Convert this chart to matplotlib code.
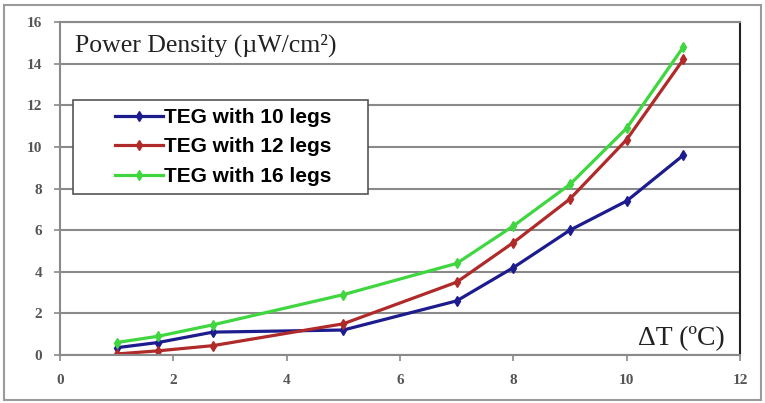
import matplotlib.pyplot as plt
from matplotlib.patches import Rectangle

# data
delta_t = [1, 1.73, 2.7, 5, 7, 8, 9, 10, 11]
teg_10 = [0.35, 0.6, 1.1, 1.2, 2.6, 4.2, 6.0, 7.4, 9.6]
teg_12 = [0.05, 0.2, 0.45, 1.5, 3.5, 5.4, 7.5, 10.35, 14.2]
teg_16 = [0.6, 0.9, 1.45, 2.9, 4.4, 6.2, 8.2, 10.9, 14.8]
series_labels = ["TEG with 10 legs", "TEG with 12 legs", "TEG with 16 legs"]
colors = ["#1c1c8f", "#b02a2a", "#3fd63f"]

W, H = 765, 403
fig = plt.figure(figsize=(W / 100, H / 100), dpi=100)
ax = fig.add_axes([60 / W, 48 / H, 680 / W, 333 / H])

# outer chart frame
fig.patches.append(Rectangle((4 / W, 3 / H), 757 / W, 395 / H,
                             transform=fig.transFigure, fill=False,
                             edgecolor="#9a9a9a", linewidth=1.5))

for vals, lab, c in zip([teg_10, teg_12, teg_16], series_labels, colors):
    ax.plot(delta_t, vals, color=c, linewidth=2.3, marker="d",
            markersize=5, label=lab)

ax.set_xlim(0, 12)
ax.set_ylim(0, 16)
ax.set_xticks(range(0, 13, 2))
ax.set_yticks(range(0, 17, 2))
ax.grid(axis="y", color="#8a8a8a", linewidth=1.5)
ax.set_axisbelow(True)
for side in ["left", "top", "bottom"]:
    ax.spines[side].set_color("#8a8a8a")
    ax.spines[side].set_linewidth(1.5)
ax.spines["right"].set_color("#222222")
ax.spines["right"].set_linewidth(1.5)
ax.tick_params(colors="#8a8a8a", labelcolor="#555555", length=4, width=1.2,
               labelsize=11)
ax.tick_params(axis="x", pad=10)
ax.tick_params(axis="y", pad=9)
for t in ax.get_xticklabels() + ax.get_yticklabels():
    t.set_family("Liberation Serif")
    t.set_fontweight("bold")

fig.text(75 / W, 1 - 52 / H, "Power Density (\u00b5W/cm\u00b2)",
         family="Liberation Serif", fontsize=18.5, color="#222222",
         va="baseline", ha="left")
ax.text(0.978, 0.03, "\u0394T (\u00baC)", transform=ax.transAxes,
        family="Liberation Serif", fontsize=20, color="#222222",
        va="baseline", ha="right")

# legend box (white, covers the gridlines) and legend entries
ax.add_patch(Rectangle((73 / W, 1 - 194 / H), 295 / W, 94 / H,
                       transform=fig.transFigure, facecolor="white",
                       edgecolor="#555555", linewidth=1.2, zorder=4,
                       clip_on=False))
leg = ax.legend(loc="center left", bbox_to_anchor=(115 / W, 1 - 147 / H),
                bbox_transform=fig.transFigure,
                prop={"family": "Liberation Sans", "weight": "bold",
                      "size": 15},
                frameon=False, handlelength=2.3, borderpad=0,
                borderaxespad=0, labelspacing=0.5, handletextpad=0.05)
leg.set_zorder(5)

fig.savefig("out.png", dpi=100)
